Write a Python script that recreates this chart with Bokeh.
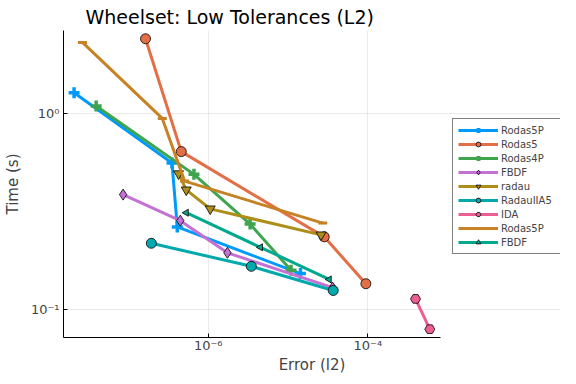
import numpy as np
from bokeh.plotting import figure
from bokeh.models import Range1d, FixedTicker, Legend, LegendItem, CustomJSTickFormatter
from bokeh.embed import file_html
from bokeh.resources import INLINE

# ---- data (error, time) per series ----
names = ["Rodas5P", "Rodas5", "Rodas4P", "FBDF", "radau", "RadauIIA5", "IDA", "Rodas5P", "FBDF"]
colors = ["#009AFA", "#E36F47", "#3EA44E", "#C371D2", "#AC8E18", "#00A9AD", "#ED5E93", "#C68225", "#00A98D"]
markers = ["cross", "circle", "cross", "diamond", "inverted_triangle", "circle", "hex", "dash", "triangle"]

rodas5p_err = [2.09e-8, 3.52e-7, 4.1e-7, 1.43e-5]
rodas5p_time = [1.27, 0.556, 0.263, 0.152]
rodas5_err = [1.64e-7, 4.6e-7, 2.84e-5, 9.44e-5]
rodas5_time = [2.39, 0.636, 0.234, 0.135]
rodas4p_err = [3.95e-8, 6.63e-7, 3.35e-6, 1.09e-5]
rodas4p_time = [1.086, 0.487, 0.272, 0.158]
fbdf_err = [8.59e-8, 4.47e-7, 1.74e-6, 3.62e-5]
fbdf_time = [0.384, 0.283, 0.194, 0.129]
radau_err = [4.25e-7, 5.31e-7, 1.06e-6, 2.59e-5]
radau_time = [0.491, 0.406, 0.325, 0.2395]
radauiia5_err = [1.94e-7, 3.47e-6, 3.68e-5]
radauiia5_time = [0.217, 0.1656, 0.1247]
ida_err = [3.95e-4, 5.96e-4]
ida_time = [0.113, 0.0792]
rodas5p2_err = [2.66e-8, 2.66e-7, 5.06e-7, 2.72e-5]
rodas5p2_time = [2.29, 0.939, 0.450, 0.275]
fbdf2_err = [5.31e-7, 4.51e-6, 3.28e-5]
fbdf2_time = [0.3105, 0.207, 0.142]

series = [
    (rodas5p_err, rodas5p_time),
    (rodas5_err, rodas5_time),
    (rodas4p_err, rodas4p_time),
    (fbdf_err, fbdf_time),
    (radau_err, radau_time),
    (radauiia5_err, radauiia5_time),
    (ida_err, ida_time),
    (rodas5p2_err, rodas5p2_time),
    (fbdf2_err, fbdf2_time),
]

x_ticks = [1e-6, 1e-4]
y_ticks = [0.1, 1.0]
x_lo, x_hi = 10 ** -7.8125, 10 ** -3.0875
y_lo, y_hi = 10 ** -1.1436, 10 ** 0.4205

FONT = "DejaVu Sans"

# frame runs to the right edge (so the legend is not clipped); the x axis is bounded
p = figure(width=560, height=376, x_axis_type="log", y_axis_type="log",
           x_range=Range1d(x_lo, 10 ** -1.5875),
           y_range=Range1d(y_lo, y_hi),
           output_backend="svg", toolbar_location=None,
           title="Wheelset: Low Tolerances (L2)",
           x_axis_label="Error (l2)", y_axis_label="Time (s)")
p.min_border_left = 54
p.min_border_right = 0
p.min_border_top = 24
p.min_border_bottom = 30
p.outline_line_color = None
p.background_fill_color = "white"
p.border_fill_color = "white"

p.title.text_font = FONT
p.title.text_font_size = "19px"
p.title.text_font_style = "normal"
p.title.align = "left"
p.title.offset = 22
p.title.standoff = 6
p.title.text_color = "black"

sup_fmt = CustomJSTickFormatter(code="""
const sup = {"-": "\u207b", "0": "\u2070", "1": "\u00b9", "2": "\u00b2", "3": "\u00b3",
             "4": "\u2074", "5": "\u2075", "6": "\u2076", "7": "\u2077", "8": "\u2078", "9": "\u2079"};
const e = Math.round(Math.log10(tick));
return "10" + String(e).split("").map(c => sup[c]).join("");
""")

for ax in (p.xaxis[0], p.yaxis[0]):
    ax.axis_label_text_font = FONT
    ax.axis_label_text_font_size = "15px"
    ax.axis_label_text_font_style = "normal"
    ax.axis_label_text_line_height = 1.0
    ax.major_label_text_font = FONT
    ax.major_label_text_font_size = "13px"
    ax.major_label_text_line_height = 1.0
    ax.minor_tick_line_color = None
    ax.major_tick_in = 4
    ax.major_tick_out = 0
    ax.axis_line_color = "black"
    ax.major_tick_line_color = "black"
    ax.formatter = sup_fmt
p.xaxis[0].ticker = FixedTicker(ticks=x_ticks)
p.yaxis[0].ticker = FixedTicker(ticks=y_ticks)
p.xaxis[0].bounds = (x_lo, x_hi)
p.xaxis[0].major_label_standoff = 0
p.xaxis[0].axis_label_standoff = 0
p.yaxis[0].major_label_standoff = 4
p.yaxis[0].axis_label_standoff = 6

p.xgrid.grid_line_color = "black"
p.xgrid.grid_line_alpha = 0.08
p.ygrid.grid_line_color = "black"
p.ygrid.grid_line_alpha = 0.08
p.xgrid.ticker = FixedTicker(ticks=x_ticks)
p.ygrid.ticker = FixedTicker(ticks=y_ticks)

items = []
for (xe, yt), name, col, mk in zip(series, names, colors, markers):
    ln = p.line(xe, yt, line_color=col, line_width=3)
    if mk == "cross":
        sc = p.scatter(xe, yt, marker=mk, size=11, line_color=col, line_width=3.5)
    elif mk == "dash":
        p.scatter(xe, yt, marker=mk, size=9, line_color=col, line_width=3)
        sc = None
    elif mk == "triangle":
        sc = p.scatter(xe, yt, marker=mk, size=7, angle=np.pi / 2, fill_color=col,
                       line_color="black", line_width=1, line_alpha=0.8)
    else:
        sz = 10 if mk != "diamond" else 11
        sc = p.scatter(xe, yt, marker=mk, size=sz, fill_color=col,
                       line_color="black", line_width=1, line_alpha=0.8)
    rs = [ln] if sc is None else [ln, sc]
    items.append(LegendItem(label=name, renderers=rs))

legend = Legend(items=items, location=(389, 83))
legend.label_text_font = FONT
legend.label_text_font_size = "10px"
legend.glyph_width = 40
legend.glyph_height = 12
legend.spacing = 2
legend.padding = 5
legend.margin = 0
legend.label_standoff = 3
legend.label_height = 12
legend.label_width = 54
legend.border_line_color = "black"
legend.border_line_width = 1
legend.background_fill_alpha = 1
p.add_layout(legend, "center")

open("out.html", "w").write(file_html(p, INLINE))
